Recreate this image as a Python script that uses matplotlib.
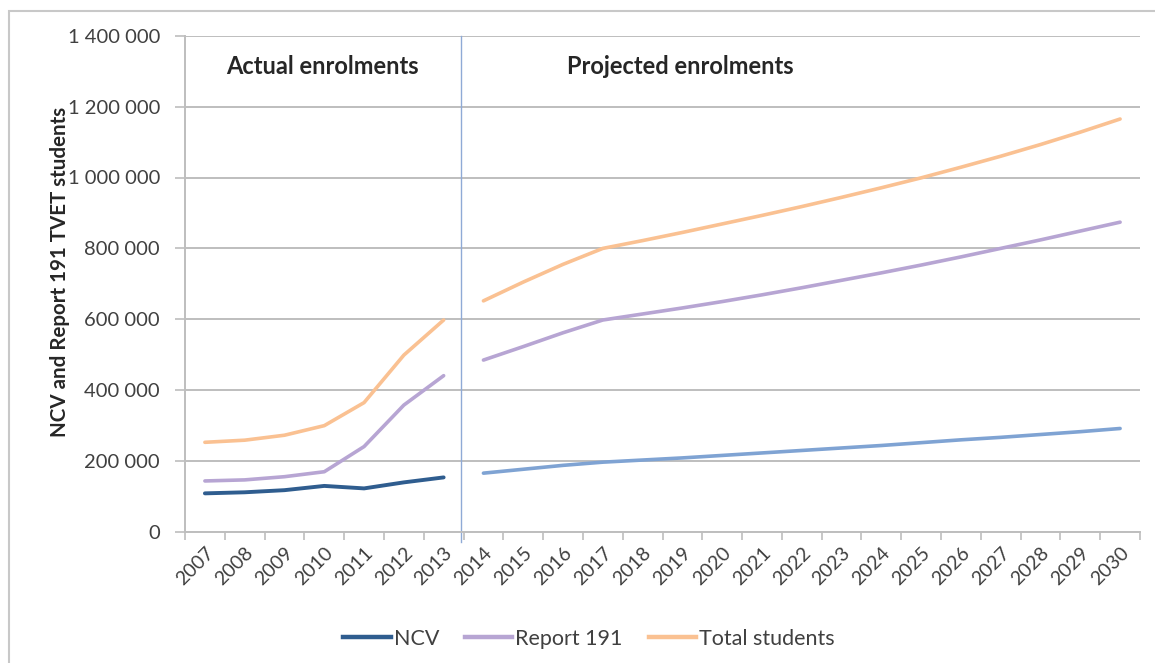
import matplotlib
matplotlib.use("Agg")
import matplotlib.pyplot as plt
from matplotlib.ticker import FuncFormatter, FixedLocator
from matplotlib.lines import Line2D
from matplotlib.patches import Rectangle

plt.rcParams['font.family'] = ['Lato', 'DejaVu Sans']

years = [str(y) for y in range(2007, 2031)]
actual_years = years[:7]
projected_years = years[7:]

ncv_actual = [109000, 112000, 118000, 130000, 123000, 140000, 154000]
report191_actual = [144000, 147000, 156000, 170000, 241000, 358000, 441000]
total_actual = [253000, 259000, 273000, 300000, 365000, 499000, 598000]

ncv_proj = [166000, 177000, 188000, 197000, 203000, 209000, 216000, 223000, 230000,
            237000, 244000, 252000, 260000, 267000, 275000, 283000, 292000]
report191_proj = [485000, 523000, 562000, 598000, 615000, 632000, 650000, 669000, 689000,
                  710000, 731000, 753000, 776000, 800000, 824000, 849000, 874000]
total_proj = [652000, 705000, 755000, 800000, 822000, 845000, 869000, 893000, 918000,
              944000, 971000, 999000, 1029000, 1060000, 1093000, 1128000, 1165000]

yticks = [0, 200000, 400000, 600000, 800000, 1000000, 1200000, 1400000]

c_ncv = '#2F5D8F'
c_ncv_proj = '#7FA3D3'
c_rep = '#B7A5D3'
c_tot = '#FAC192'
c_grid = '#BEBEBE'

W, H = 1155, 663
fig = plt.figure(figsize=(W / 100, H / 100), dpi=100)
ax = fig.add_axes([185 / W, 1 - 532 / H, (1140 - 185) / W, (532 - 35.7) / H])

xa = list(range(len(actual_years)))
xp = list(range(len(actual_years), len(years)))

ax.plot(xa, total_actual, color=c_tot, lw=2.6, solid_capstyle='round', zorder=3)
ax.plot(xa, report191_actual, color=c_rep, lw=2.6, solid_capstyle='round', zorder=3)
ax.plot(xa, ncv_actual, color=c_ncv, lw=2.8, solid_capstyle='round', zorder=3)
ax.plot(xp, total_proj, color=c_tot, lw=2.6, solid_capstyle='round', zorder=3)
ax.plot(xp, report191_proj, color=c_rep, lw=2.6, solid_capstyle='round', zorder=3)
ax.plot(xp, ncv_proj, color=c_ncv_proj, lw=2.6, solid_capstyle='round', zorder=3)

ax.axvline(len(actual_years) - 0.57, ymin=-0.02, ymax=1.0, color='#8FAAD6', lw=1.0,
           zorder=2, clip_on=False)

ax.set_xlim(-0.5, len(years) - 0.5)
ax.set_ylim(0, 1400000)
ax.set_yticks(yticks)
ax.yaxis.set_major_formatter(FuncFormatter(lambda v, p: format(int(v), ',').replace(',', ' ')))
ax.grid(axis='y', color=c_grid, lw=1.4)
ax.set_axisbelow(True)

ax.set_xticks(range(len(years)))
ax.set_xticklabels(years, rotation=45, ha='right', va='top', rotation_mode='anchor')
ax.xaxis.set_minor_locator(FixedLocator([k - 0.5 for k in range(len(years) + 1)]))
ax.tick_params(axis='x', which='major', length=0, pad=9, labelsize=14, labelcolor='#404040')
ax.tick_params(axis='x', which='minor', length=6, color=c_grid, width=1.2)
ax.tick_params(axis='y', length=7, color=c_grid, width=1.2, labelsize=14.5, labelcolor='#404040', pad=11)

for s in ['top', 'right']:
    ax.spines[s].set_visible(False)
for s in ['left', 'bottom']:
    ax.spines[s].set_color(c_grid)
    ax.spines[s].set_linewidth(1.4)

ax.text(322 / W, 1 - 66 / H, 'Actual enrolments', transform=fig.transFigure,
        ha='center', va='center', fontsize=17, fontweight='bold', color='#262626')
ax.text(680 / W, 1 - 66 / H, 'Projected enrolments', transform=fig.transFigure,
        ha='center', va='center', fontsize=17, fontweight='bold', color='#262626')

fig.text(60 / W, 1 - 272 / H, 'NCV and Report 191 TVET students', rotation=90,
         ha='center', va='center', fontsize=14.8, fontweight='bold', color='#262626')

handles = [Line2D([], [], color=c_ncv, lw=3.2),
           Line2D([], [], color=c_rep, lw=3.2),
           Line2D([], [], color=c_tot, lw=3.2)]
fig.legend(handles, ['NCV', 'Report 191', 'Total students'], loc='center',
           bbox_to_anchor=(589 / W, 1 - 639 / H), ncol=3, frameon=False,
           fontsize=15.5, handlelength=2.2, handletextpad=0.14, columnspacing=1.2,
           labelcolor='#404040')

fig.patches.append(Rectangle((9 / W, -0.1), 1.2, (1 - 11 / H) + 0.1, transform=fig.transFigure,
                             fill=False, edgecolor='#C8C8C8', lw=1.5))

fig.savefig('out.png', dpi=100, facecolor='white')
